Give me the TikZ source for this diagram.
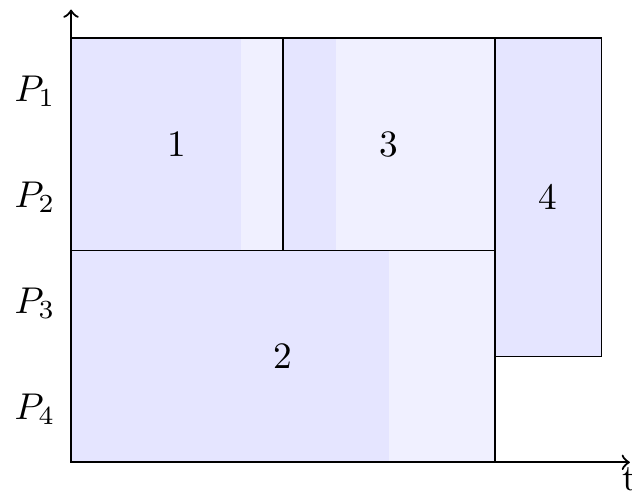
\documentclass[tikz,border=0pt]{standalone}
\usepackage{tikz}
\definecolor{busy}{HTML}{E5E5FF}
\definecolor{idle}{HTML}{F0F0FF}
\begin{document}
\begin{tikzpicture}[x=1cm,y=1cm,
  job/.style={draw=black,thin},
  darkpart/.style={fill=busy},
  lightpart/.style={fill=idle},
  axis/.style={semithick,->},
  proc/.style={anchor=center}]
\useasboundingbox (-0.67,-0.29) rectangle (5.29,4.36);
% job 1
\fill[darkpart] (0,2) rectangle (1.6,4);
\fill[lightpart] (1.6,2) rectangle (2,4);
\draw[job] (0,2) rectangle (2,4);
% job 3
\fill[darkpart] (2,2) rectangle (2.5,4);
\fill[lightpart] (2.5,2) rectangle (4,4);
\draw[job] (2,2) rectangle (4,4);
% job 2
\fill[darkpart] (0,0) rectangle (3,2);
\fill[lightpart] (3,0) rectangle (4,2);
\draw[job] (0,0) rectangle (4,2);
% job 4
\fill[darkpart] (4,1) rectangle (5,4);
\draw[job] (4,1) rectangle (5,4);
\node (j1) at (1,3) {1};
\node (j3) at (3,3) {3};
\node (j2) at (2,1) {2};
\node (j4) at (4.5,2.5) {4};
\node[proc] (p1) at (-0.34,3.5) {$P_1$};
\node[proc] (p2) at (-0.34,2.5) {$P_2$};
\node[proc] (p3) at (-0.34,1.5) {$P_3$};
\node[proc] (p4) at (-0.34,0.5) {$P_4$};
\coordinate (o) at (0,0);
\coordinate (xe) at (5.27,0);
\coordinate (ye) at (0,4.27);
\draw[axis] (o) -- (ye);
\draw[axis] (o) -- (xe) node[below,inner sep=1pt] (tl) {t};
\end{tikzpicture}
\end{document}
